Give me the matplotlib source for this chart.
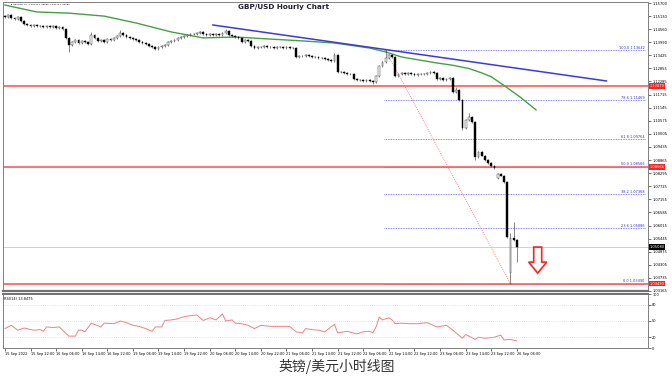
import matplotlib
matplotlib.use("Agg")
import matplotlib.pyplot as plt
from matplotlib.patches import FancyArrow
import numpy as np

plt.rcParams['font.family'] = ['DejaVu Sans', 'Noto Sans CJK SC']

#####################################################################
# data (GBPUSD H1, 15 Sep 14:00 .. 26 Sep 06:00)
closes = [
    1.1509, 1.1518, 1.1505, 1.1500, 1.1509, 1.1492, 1.1479, 1.1474, 1.1470, 1.1474,
    1.1470, 1.1470, 1.1466, 1.1470, 1.1466, 1.1470, 1.1461, 1.1466, 1.1457, 1.1418,
    1.1387, 1.1400, 1.1409, 1.1396, 1.1405, 1.1400, 1.1392, 1.1431, 1.1418, 1.1405,
    1.1409, 1.1400, 1.1413, 1.1409, 1.1418, 1.1426, 1.1440, 1.1431, 1.1422, 1.1418,
    1.1413, 1.1409, 1.1400, 1.1396, 1.1392, 1.1383, 1.1379, 1.1370, 1.1379, 1.1383,
    1.1387, 1.1400, 1.1405, 1.1409, 1.1418, 1.1422, 1.1426, 1.1431, 1.1435, 1.1435,
    1.1440, 1.1444, 1.1435, 1.1431, 1.1435, 1.1431, 1.1435, 1.1431, 1.1440, 1.1448,
    1.1431, 1.1426, 1.1422, 1.1418, 1.1400, 1.1409, 1.1405, 1.1383, 1.1374, 1.1379,
    1.1379, 1.1383, 1.1379, 1.1379, 1.1374, 1.1379, 1.1379, 1.1374, 1.1379, 1.1374,
    1.1374, 1.1335, 1.1340, 1.1340, 1.1344, 1.1340, 1.1335, 1.1335, 1.1331, 1.1331,
    1.1326, 1.1322, 1.1318, 1.1344, 1.1270, 1.1270, 1.1266, 1.1261, 1.1261, 1.1239,
    1.1235, 1.1235, 1.1231, 1.1235, 1.1231, 1.1226, 1.1252, 1.1296, 1.1313, 1.1331,
    1.1344, 1.1335, 1.1252, 1.1261, 1.1266, 1.1261, 1.1266, 1.1261, 1.1257, 1.1261,
    1.1261, 1.1261, 1.1266, 1.1270, 1.1266, 1.1239, 1.1244, 1.1235, 1.1239, 1.1244,
    1.1183, 1.1192, 1.1148, 1.1026, 1.1061, 1.1074, 1.1052, 1.0900, 1.0922, 1.0905,
    1.0887, 1.0874, 1.0861, 1.0852, 1.0826, 1.0818, 1.0791, 1.0552, 1.0548, 1.0539,
    1.0508,
]
first_open = 1.1513
open_gaps = {154: 1.0809, 158: 1.0396}
high_marks = {19: 1.1461, 27: 1.1444, 36: 1.1453, 69: 1.1458, 103: 1.1352,
              119: 1.13642, 141: 1.1205, 145: 1.1091, 158: 1.0570, 159: 1.0617}
low_marks = {20: 1.1357, 47: 1.1365, 115: 1.1218, 143: 1.1017, 147: 1.0887,
             158: 1.0349, 160: 1.0444}

# green moving average (drawn shifted past the last bar)
ma_bars = [0, 10, 20, 31, 41, 52, 57, 62, 72, 83, 93, 103, 114, 119, 124,
           135, 140, 145, 149, 152, 156, 161, 166]
ma_vals = [1.1561, 1.1531, 1.1526, 1.1513, 1.1483, 1.1444, 1.1431, 1.1418,
           1.1422, 1.1413, 1.1405, 1.1396, 1.1374, 1.1357, 1.1335, 1.1309,
           1.1299, 1.1285, 1.1266, 1.1249, 1.1211, 1.1161, 1.1105]

rsi_bars = [0, 2, 4, 6, 9, 11, 12, 13, 15, 17, 18, 20, 22, 23, 24, 25, 27, 30,
            31, 34, 36, 38, 40, 42, 44, 46, 47, 49, 50, 52, 54, 56, 58, 60, 62,
            64, 66, 68, 69, 71, 72, 74, 76, 78, 80, 83, 85, 87, 89, 91, 93, 94,
            96, 98, 100, 103, 104, 107, 110, 112, 114, 115, 116, 117, 118, 120,
            121, 122, 124, 126, 129, 132, 135, 138, 140, 141, 143, 144, 147,
            148, 150, 153, 155, 156, 158, 160]
rsi_vals = [36, 42, 33, 37, 33, 34, 31, 39, 38, 39, 33, 22, 22, 33, 33, 30, 46,
            39, 46, 45, 50, 47, 42, 40, 36, 31, 39, 39, 51, 52, 54, 58, 60, 61,
            51, 56, 52, 63, 50, 52, 46, 45, 42, 36, 42, 40, 40, 40, 40, 30, 28,
            36, 34, 33, 30, 44, 28, 31, 26, 30, 31, 28, 39, 57, 52, 56, 52, 45,
            46, 45, 45, 47, 39, 42, 33, 28, 18, 25, 16, 20, 18, 20, 24, 15, 16,
            13]

time_labels = ["15 Sep 2022", "15 Sep 22:00", "16 Sep 06:00", "16 Sep 14:00",
               "16 Sep 22:00", "19 Sep 06:00", "19 Sep 14:00", "19 Sep 22:00",
               "20 Sep 06:00", "20 Sep 14:00", "20 Sep 22:00", "21 Sep 06:00",
               "21 Sep 14:00", "21 Sep 22:00", "22 Sep 06:00", "22 Sep 14:00",
               "22 Sep 22:00", "23 Sep 06:00", "23 Sep 14:00", "23 Sep 22:00",
               "26 Sep 06:00"]
price_ticks = [1.15700, 1.15130, 1.14560, 1.13990, 1.13425, 1.12855, 1.12285,
               1.11715, 1.11145, 1.10575, 1.10005, 1.09435, 1.08865, 1.08295,
               1.07725, 1.07155, 1.06585, 1.06015, 1.05445, 1.04875, 1.04305,
               1.03735, 1.03165]
rsi_ticks = [100, 80, 50, 20, 0]

fib_high = 1.13642
fib_low = 1.03490
fib_levels = [100.0, 78.6, 61.8, 50.0, 38.2, 23.6, 0.0]
fib_high_bar = 119
fib_low_bar = 158
red_lines = [1.12079, 1.08566, 1.03490]
last_price = 1.05080
trend_bars = [65, 188]
trend_vals = [1.14743, 1.12307]

#####################################################################
# candles
n = len(closes)
xs = np.arange(n)
c = np.array(closes)
o = np.array([first_open] + closes[:-1])
for k, v in open_gaps.items():
    o[k] = v
hi = np.maximum(o, c) + 0.0003
lo = np.minimum(o, c) - 0.0003
for k, v in high_marks.items():
    hi[k] = v
for k, v in low_marks.items():
    lo[k] = v

fig = plt.figure(figsize=(6.72, 3.78), dpi=100)
ax = fig.add_axes([3/672, 1-291/378, 645/672, 289/378])
ax_rsi = fig.add_axes([3/672, 1-348/378, 645/672, 54/378])

ax.vlines(xs, lo, hi, color='#303030', lw=0.4, zorder=3)
up = c >= o
body_bot = np.minimum(o, c)
body_h = np.maximum(np.abs(c - o), 0.0001)
ax.bar(xs[up], body_h[up], bottom=body_bot[up], width=0.55, color='white',
       edgecolor='#404040', linewidth=0.35, zorder=4)
ax.bar(xs[~up], body_h[~up], bottom=body_bot[~up], width=0.55, color='black',
       edgecolor='black', linewidth=0.3, zorder=4)

# moving average and trend line
ax.plot(ma_bars, ma_vals, color='#45a045', lw=1.0, zorder=2)
ax.plot(trend_bars, trend_vals, color='#3a3adf', lw=1.1, zorder=2)

# fibonacci
fib_range = fib_high - fib_low
for lvl in fib_levels:
    p = fib_low + fib_range * lvl / 100
    ax.hlines(p, fib_high_bar - 0.5, 200, colors='#6060ee', linestyles=(0, (1, 1)), lw=0.6, zorder=1)
    ax.text(200, p + 0.0003, f"{lvl:.1f} {p:.5f}", ha='right', va='bottom',
            fontsize=2.5, color='#3333cc')
ax.plot([fib_high_bar, fib_low_bar], [fib_high, fib_low], color='#ff6060',
        ls=(0, (1, 1.5)), lw=0.6, zorder=1)

# horizontal levels
for p in red_lines:
    ax.axhline(p, color='#ff5a5a', lw=1.2, zorder=1)
    ax.text(1.002, p, f"{p:.5f}", transform=ax.get_yaxis_transform(), ha='left',
            va='center', fontsize=2.6, color='white', clip_on=False,
            bbox=dict(boxstyle='square,pad=0.2', fc='#ff2020', ec='none'))
ax.axhline(last_price, color='#c8c8c8', lw=0.6, zorder=1)
ax.text(1.002, last_price, f"{last_price:.5f}", transform=ax.get_yaxis_transform(),
        ha='left', va='center', fontsize=2.6, color='white', clip_on=False,
        bbox=dict(boxstyle='square,pad=0.2', fc='black', ec='none'))

# red down arrow
arrow = FancyArrow(0.829, 0.152, 0, -0.090, width=0.0124, head_width=0.028,
                   head_length=0.038, length_includes_head=True, fill=False,
                   ec='#ff2020', lw=1.2, transform=ax.transAxes)
ax.add_patch(arrow)

ax.set_xlim(-0.6, 201.0)
ax.set_ylim(1.03172, 1.15744)
ax.set_xticks([])
ax.yaxis.tick_right()
ax.set_yticks(price_ticks)
ax.set_yticklabels([f"{t:.5f}" for t in price_ticks])
ax.tick_params(axis='y', labelsize=2.6, length=2, width=0.4, pad=1, colors='black')
for s in ax.spines.values():
    s.set_color('#808080')
    s.set_linewidth(0.7)
ax.spines['bottom'].set_linewidth(1.6)
ax.spines['bottom'].set_color('#707070')

ax.text(0.012, 0.992, "\u25be GBPUSD,H1  1.05436 1.05585 1.04479 1.05080",
        transform=ax.transAxes, ha='left', va='top', fontsize=1.7)

#####################################################################
# RSI panel
ax_rsi.plot(rsi_bars, rsi_vals, color='#f08080', lw=0.7)
for g in [80, 50, 20]:
    ax_rsi.axhline(g, color='#c8c8c8', lw=0.5, ls=(0, (1, 2)))
ax_rsi.set_xlim(-0.6, 201.0)
ax_rsi.set_ylim(0, 100)
ax_rsi.yaxis.tick_right()
ax_rsi.set_yticks(rsi_ticks)
ax_rsi.set_yticklabels([str(t) for t in rsi_ticks])
ax_rsi.set_xticks(np.arange(len(time_labels)) * 8)
ax_rsi.set_xticklabels(time_labels, ha='left')
ax_rsi.tick_params(axis='both', labelsize=2.5, length=2, width=0.4, pad=1)
for s in ax_rsi.spines.values():
    s.set_color('#808080')
    s.set_linewidth(0.7)
ax_rsi.spines['top'].set_linewidth(1.4)
ax_rsi.spines['top'].set_color('#707070')
ax_rsi.text(0.002, 0.95, "RSI(14) 13.8475", transform=ax_rsi.transAxes,
            ha='left', va='top', fontsize=2.5)

#####################################################################
# titles
fig.text(283/672, 1-7/378, "GBP/USD Hourly Chart", ha='center', va='center',
         fontsize=5.2, fontweight='bold', color='#202030')
fig.text(337/672, 1-366/378, "英镑/美元小时线图", ha='center', va='center',
         fontsize=10, family=['Noto Sans CJK SC', 'DejaVu Sans'], color='#333333')

fig.savefig('out.png', dpi=100)
